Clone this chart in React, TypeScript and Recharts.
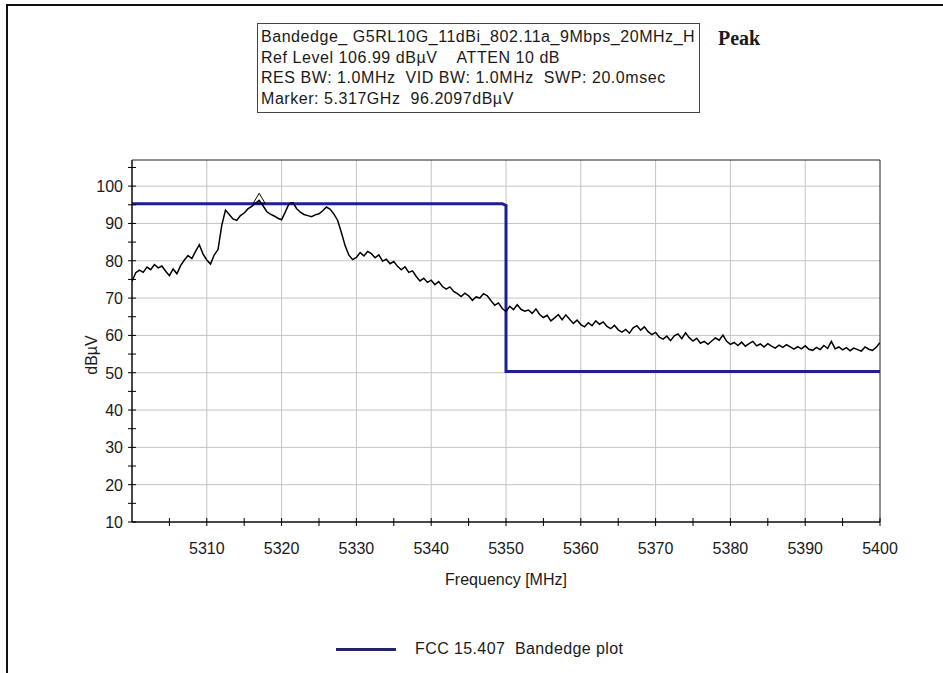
import React from 'react';
import { ComposedChart, Line, XAxis, YAxis, CartesianGrid, ReferenceDot, ReferenceArea } from 'recharts';

// sweep: 5300 MHz .. 5400 MHz, one reading every 0.5 MHz
const FREQ_START = 5300;
const FREQ_STEP = 0.5;

const traceLevels = [
  74.5, 76.8, 77.5, 76.9, 78.3, 77.6, 79.0, 78.1, 78.6, 77.2,
  76.0, 77.8, 76.5, 78.7, 80.2, 81.4, 80.6, 82.5, 84.3, 81.8,
  80.2, 79.1, 81.6, 83.0, 89.5, 93.6, 92.4, 91.2, 90.8, 92.1,
  92.8, 93.9, 94.6, 95.4, 96.2, 94.8, 93.2, 92.5, 92.0, 91.4,
  91.0, 93.1, 95.3, 95.6, 94.0, 93.0, 92.4, 92.1, 91.8, 92.3,
  92.6, 93.4, 94.4, 93.8, 92.5, 90.8, 87.5, 84.0, 81.5, 80.3,
  80.9, 82.2, 81.3, 82.5, 81.9, 80.8, 81.6, 79.9, 80.4, 79.2,
  79.8, 78.5, 77.6, 78.4, 76.9, 77.3, 75.8, 74.6, 75.3, 74.2,
  74.8, 73.6, 74.4, 73.1, 72.4, 73.0, 71.8, 71.2, 70.4, 71.3,
  70.6, 69.4, 70.3, 70.0, 71.2, 70.6, 69.3, 68.1, 68.7, 67.2,
  66.4, 67.8, 66.9, 68.2, 67.0, 66.5, 66.8, 65.9, 67.1, 65.6,
  64.8, 65.4, 63.9, 64.7, 65.6, 64.2, 65.5, 64.3, 63.2, 64.1,
  62.9, 62.3, 63.4, 62.6, 63.9, 63.0, 63.6, 62.4, 61.8, 62.7,
  61.5, 60.9, 61.6, 60.6, 62.0, 62.6, 61.4, 62.3, 61.0, 60.2,
  60.8, 59.5, 59.0, 59.8, 58.6, 59.9, 60.4, 59.1, 60.7, 59.4,
  58.5, 59.2, 57.9, 58.4, 57.6, 58.5, 59.3, 58.7, 60.1, 58.4,
  57.6, 58.1, 57.3, 58.2, 57.1, 57.8, 58.4, 57.2, 57.7, 56.9,
  57.8, 57.1, 56.6, 57.4, 56.8, 57.5, 56.9, 56.3, 57.0, 56.4,
  57.2, 56.3, 56.0, 56.8, 56.2, 57.3, 56.5, 58.4, 56.4, 56.9,
  56.1, 56.7, 55.9, 56.6, 56.2, 55.8, 56.9, 56.3, 56.0, 56.8,
  58.1,
];

const limitFreqs = [5300, 5349.5, 5350, 5350, 5400];
const limitLevels = [95.3, 95.3, 94.8, 50.3, 50.3];

const xTicks = [5305, 5310, 5315, 5320, 5325, 5330, 5335, 5340, 5345, 5350, 5355, 5360, 5365, 5370, 5375, 5380, 5385, 5390, 5395, 5400];
const yTicks = [10, 15, 20, 25, 30, 35, 40, 45, 50, 55, 60, 65, 70, 75, 80, 85, 90, 95, 100, 105];
const gridFreqs = [5310, 5320, 5330, 5340, 5350, 5360, 5370, 5380, 5390];
const gridLevels = [20, 30, 40, 50, 60, 70, 80, 90, 100];

const headerLines = [
  'Bandedge_ G5RL10G_11dBi_802.11a_9Mbps_20MHz_H',
  'Ref Level 106.99 dB\u00b5V    ATTEN 10 dB',
  'RES BW: 1.0MHz  VID BW: 1.0MHz  SWP: 20.0msec',
  'Marker: 5.317GHz  96.2097dB\u00b5V',
];
const markerFreq = 5317;
const markerLevel = 96.2;

const traceData = traceLevels.map((level, i) => ({ freq: FREQ_START + i * FREQ_STEP, level }));
const limitData = limitFreqs.map((freq, i) => ({ freq, level: limitLevels[i] }));

const FONT = '"Liberation Sans", Arial, sans-serif';
const LIMIT_COLOR = '#1e1e96';

const XTick = (props: any) => {
  const { x, y, payload } = props;
  const major = payload.value % 10 === 0;
  return (
    <g>
      <line x1={x} x2={x} y1={y - 4} y2={y + 4} stroke="#000" />
      {major && (
        <text x={x} y={y + 32} textAnchor="middle" fontSize={16} fontFamily={FONT} fill="#1a1a1a">
          {payload.value}
        </text>
      )}
    </g>
  );
};

const YTick = (props: any) => {
  const { x, y, payload } = props;
  const major = payload.value % 10 === 0;
  return (
    <g>
      <line x1={x - 4} x2={x + 4} y1={y} y2={y} stroke="#000" />
      {major && (
        <text x={x - 9} y={y + 6} textAnchor="end" fontSize={16} fontFamily={FONT} fill="#1a1a1a">
          {payload.value}
        </text>
      )}
    </g>
  );
};

const MarkerShape = (props: any) => {
  const { cx, cy } = props;
  return <polygon points={`${cx},${cy - 7} ${cx - 6},${cy + 3} ${cx + 6},${cy + 3}`} fill="none" stroke="#000" strokeWidth={1} />;
};

export default function App() {
  return (
    <div style={{ position: 'absolute', left: 0, top: 0, width: 943, height: 673, background: '#fff', overflow: 'hidden' }}>
      <div style={{ position: 'absolute', left: 6, top: 4, width: 950, height: 700, borderTop: '2px solid #111', borderLeft: '2px solid #111' }} />

      <ComposedChart
        width={943}
        height={673}
        margin={{ top: 160, right: 63, left: 72, bottom: 121 }}
        style={{ position: 'absolute', left: 0, top: 0 }}
      >
        <CartesianGrid stroke="#c4c4c4" horizontalValues={gridLevels} verticalValues={gridFreqs} />
        <ReferenceArea x1={5300} x2={5400} y1={10} y2={107} fill="none" stroke="#222" strokeWidth={1} ifOverflow="visible" />
        <XAxis
          dataKey="freq"
          type="number"
          domain={[5300, 5400]}
          ticks={xTicks}
          interval={0}
          allowDataOverflow
          height={30}
          tickSize={0}
          tickMargin={0}
          axisLine={{ stroke: '#000' }}
          tick={(p: any) => <XTick {...p} />}
        />
        <YAxis
          type="number"
          domain={[10, 107]}
          ticks={yTicks}
          interval={0}
          allowDataOverflow
          width={60}
          tickSize={0}
          tickMargin={0}
          axisLine={{ stroke: '#000' }}
          tick={(p: any) => <YTick {...p} />}
        />
        <Line data={limitData} dataKey="level" type="linear" stroke={LIMIT_COLOR} strokeWidth={3} dot={false} isAnimationActive={false} />
        <Line data={traceData} dataKey="level" type="linear" stroke="#000" strokeWidth={1.5} dot={false} isAnimationActive={false} />
        <ReferenceDot x={markerFreq} y={markerLevel} r={5} shape={(p: any) => <MarkerShape {...p} />} />
      </ComposedChart>

      <div
        style={{
          position: 'absolute', left: 257, top: 23, width: 443, height: 90, border: '1px solid #444',
          fontFamily: FONT, fontSize: 16, lineHeight: '20.7px', color: '#1a1a1a', whiteSpace: 'pre',
          letterSpacing: 0.55, paddingLeft: 3, paddingTop: 3, boxSizing: 'border-box',
        }}
      >
        {headerLines.map((l) => (
          <div key={l}>{l}</div>
        ))}
      </div>
      <div style={{ position: 'absolute', left: 718, top: 27, fontFamily: '"Liberation Serif", "Times New Roman", serif', fontWeight: 'bold', fontSize: 20, color: '#1a1a1a' }}>
        Peak
      </div>

      <div style={{ position: 'absolute', left: 92, top: 355, transform: 'translate(-50%, -50%) rotate(-90deg)', fontFamily: FONT, fontSize: 16, color: '#1a1a1a', whiteSpace: 'nowrap' }}>
        dB{'\u00b5'}V
      </div>
      <div style={{ position: 'absolute', left: 506, top: 580, transform: 'translate(-50%, -50%)', fontFamily: FONT, fontSize: 16, color: '#1a1a1a', whiteSpace: 'nowrap' }}>
        Frequency [MHz]
      </div>

      <div style={{ position: 'absolute', left: 336, top: 640, display: 'flex', alignItems: 'center', fontFamily: FONT, fontSize: 16, color: '#1a1a1a', whiteSpace: 'pre', letterSpacing: 0.4 }}>
        <div style={{ width: 60, height: 3, background: '#23236a', marginRight: 19 }} />
        <span>FCC 15.407  Bandedge plot</span>
      </div>
    </div>
  );
}
